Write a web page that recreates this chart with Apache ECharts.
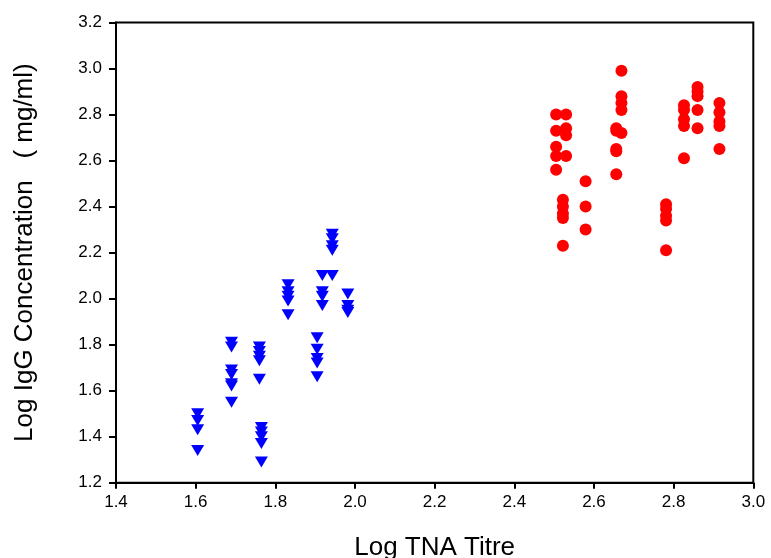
<!DOCTYPE html>
<html>
<head>
<meta charset="utf-8">
<script src="https://cdn.jsdelivr.net/npm/echarts@6/dist/echarts.min.js"></script>
<style>html,body{margin:0;padding:0;background:#fff}#c{width:771px;height:558px}</style>
</head>
<body>
<div id="c"></div>
<script>
// Blue group (down triangles): [Log TNA Titre, Log IgG]
const blueX = [1.605, 1.605, 1.605, 1.605,
  1.69, 1.69, 1.69, 1.69, 1.69, 1.69, 1.69,
  1.76, 1.76, 1.76, 1.76, 1.76,
  1.765, 1.765, 1.765, 1.765, 1.765,
  1.832, 1.832, 1.832, 1.832, 1.832,
  1.905, 1.905, 1.905, 1.905, 1.905,
  1.918, 1.918, 1.918, 1.918,
  1.943, 1.943, 1.943, 1.943, 1.943,
  1.982, 1.982, 1.982, 1.982];
const blueY = [1.50, 1.47, 1.43, 1.34,
  1.81, 1.79, 1.69, 1.67, 1.63, 1.62, 1.55,
  1.79, 1.77, 1.75, 1.73, 1.65,
  1.44, 1.42, 1.40, 1.37, 1.29,
  2.06, 2.03, 2.01, 1.99, 1.93,
  1.83, 1.78, 1.74, 1.72, 1.66,
  2.10, 2.03, 2.01, 1.97,
  2.28, 2.26, 2.23, 2.21, 2.10,
  2.02, 1.97, 1.95, 1.94];
// Red group (circles)
const redX = [2.505, 2.505, 2.505, 2.505, 2.505,
  2.53, 2.53, 2.53, 2.53,
  2.522, 2.522, 2.522, 2.522, 2.522,
  2.579, 2.579, 2.579,
  2.656, 2.656, 2.656, 2.656, 2.656,
  2.669, 2.669, 2.669, 2.669, 2.669,
  2.781, 2.781, 2.781, 2.781, 2.781,
  2.826, 2.826, 2.826, 2.826, 2.826,
  2.860, 2.860, 2.860, 2.860, 2.860,
  2.915, 2.915, 2.915, 2.915, 2.915];
const redY = [2.80, 2.73, 2.66, 2.62, 2.56,
  2.80, 2.74, 2.71, 2.62,
  2.43, 2.40, 2.37, 2.35, 2.23,
  2.51, 2.40, 2.30,
  2.74, 2.73, 2.65, 2.64, 2.54,
  2.99, 2.88, 2.85, 2.82, 2.72,
  2.41, 2.39, 2.36, 2.34, 2.21,
  2.84, 2.82, 2.78, 2.75, 2.61,
  2.92, 2.90, 2.88, 2.82, 2.74,
  2.85, 2.81, 2.77, 2.75, 2.65];
const xTicks = [1.4, 1.6, 1.8, 2.0, 2.2, 2.4, 2.6, 2.8, 3.0];
const yTicks = [1.2, 1.4, 1.6, 1.8, 2.0, 2.2, 2.4, 2.6, 2.8, 3.0, 3.2];

const blueData = blueX.map((x, i) => [x, blueY[i]]);
const redData = redX.map((x, i) => [x, redY[i]]);

const chart = echarts.init(document.getElementById('c'));
const font = 'Liberation Sans, Arial, Helvetica, sans-serif';
chart.setOption({
  backgroundColor: '#fff',
  animation: false,
  grid: {left: 116, top: 22.5, right: 17.7, bottom: 75.3, show: true, borderColor: '#000', borderWidth: 2,
         containLabel: false, outerBoundsMode: 'none'},
  xAxis: {
    type: 'value', min: xTicks[0], max: xTicks[xTicks.length - 1], interval: 0.2,
    name: 'Log TNA Titre', nameLocation: 'middle', nameGap: 52,
    nameTextStyle: {fontFamily: font, fontSize: 26, color: '#000'},
    axisLine: {show: true, lineStyle: {color: '#000', width: 2}},
    axisTick: {show: true, length: 6, lineStyle: {color: '#000', width: 2}},
    axisLabel: {fontFamily: font, fontSize: 17, color: '#000', margin: 11, formatter: v => v.toFixed(1)},
    splitLine: {show: false}
  },
  yAxis: {
    type: 'value', min: yTicks[0], max: yTicks[yTicks.length - 1], interval: 0.2,
    name: 'Log IgG Concentration   ( mg/ml)', nameLocation: 'middle', nameGap: 78,
    nameTextStyle: {fontFamily: font, fontSize: 26, color: '#000'},
    axisLine: {show: true, lineStyle: {color: '#000', width: 2}},
    axisTick: {show: true, length: 7, lineStyle: {color: '#000', width: 2}},
    axisLabel: {fontFamily: font, fontSize: 17, color: '#000', margin: 14, formatter: v => v.toFixed(1)},
    splitLine: {show: false}
  },
  series: [
    {type: 'scatter', data: blueData, symbol: 'triangle', symbolRotate: 180, symbolSize: [13, 11],
     itemStyle: {color: '#0000ff', opacity: 1}},
    {type: 'scatter', data: redData, symbol: 'circle', symbolSize: 12,
     itemStyle: {color: '#ff0000', opacity: 1}}
  ]
});
</script>
</body>
</html>
